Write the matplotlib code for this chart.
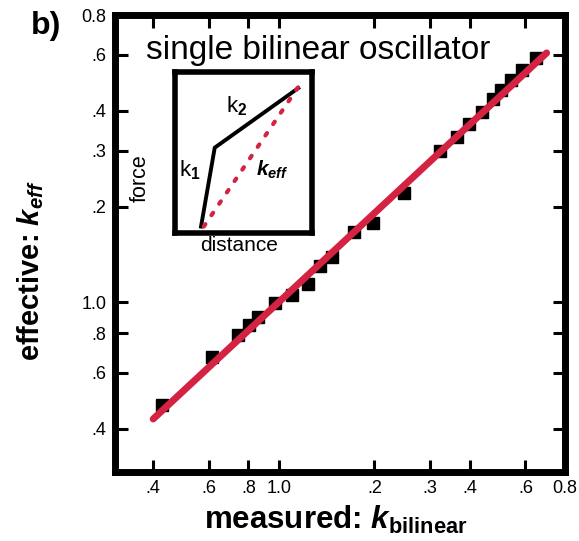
import numpy as np
import matplotlib
matplotlib.use('Agg')
import matplotlib.pyplot as plt
from matplotlib.ticker import FixedLocator, FixedFormatter, NullLocator

plt.rcParams['font.family'] = ['Liberation Sans', 'DejaVu Sans']
plt.rcParams['mathtext.fontset'] = 'custom'
plt.rcParams['mathtext.rm'] = 'Liberation Sans:bold'
plt.rcParams['mathtext.it'] = 'Liberation Sans:italic:bold'
plt.rcParams['mathtext.bf'] = 'Liberation Sans:bold'

# measured vs effective stiffness
k_bilinear = [0.427, 0.614, 0.742, 0.804, 0.858, 0.971, 1.099, 1.234, 1.347, 1.470,
              1.724, 1.980, 2.481, 3.223, 3.648, 3.98, 4.375, 4.74, 5.02, 5.40,
              5.85, 6.48]
k_eff = [0.476, 0.674, 0.790, 0.850, 0.900, 0.996, 1.055, 1.143, 1.302, 1.390,
         1.666, 1.777, 2.209, 2.994, 3.314, 3.641, 3.972, 4.364, 4.656, 5.01,
         5.38, 5.87]

# fitted line end points
fit_x = [0.4, 7.0]
fit_y = [0.43, 6.08]

tick_vals = [0.4, 0.6, 0.8, 1.0, 2, 3, 4, 6, 8]
tick_labels = ['.4', '.6', '.8', '1.0', '.2', '.3', '.4', '.6', '0.8']

# inset sketch (force vs distance)
sketch_x = [0.19, 0.29, 0.90]
sketch_y = [0.04, 0.53, 0.90]
keff_x = [0.21, 0.91]
keff_y = [0.04, 0.92]

red = '#d42342'

fig = plt.figure(figsize=(5.79, 5.41), dpi=100)
ax = fig.add_axes([115/579, 1-472/541, 450/579, 457/541])

ax.plot(k_bilinear, k_eff, 's', color='black', markersize=9, zorder=2)
ax.plot(fit_x, fit_y, '-', color=red, linewidth=5, solid_capstyle='round', zorder=3)

ax.set_xscale('log')
ax.set_yscale('log')
ax.set_xlim(0.303, 8)
ax.set_ylim(0.293, 8)

for axis in (ax.xaxis, ax.yaxis):
    axis.set_major_locator(FixedLocator(tick_vals))
    axis.set_major_formatter(FixedFormatter(tick_labels))
    axis.set_minor_locator(NullLocator())

ax.tick_params(which='major', direction='in', length=9, width=2.2,
               top=True, right=True, labelsize=13, pad=6)
for s in ax.spines.values():
    s.set_linewidth(5)

ax.set_xlabel(r'measured: $k_{\mathrm{bilinear}}$', fontsize=22.5, fontweight='bold')
ax.xaxis.set_label_coords(0.491, -0.07)
ax.set_ylabel(r'effective: $k_{eff}$', fontsize=21, fontweight='bold')
ax.yaxis.set_label_coords(-0.154, 0.44)

fig.text(31/579, 1-11/541, 'b)', fontsize=23, fontweight='bold', va='top')
fig.text(318/579, 1-50/541, 'single bilinear oscillator', fontsize=24,
         ha='center', va='center')

# inset
ins = fig.add_axes([175/579, 1-233/541, 137/579, 161/541])
ins.set_xlim(0, 1)
ins.set_ylim(0, 1)
ins.set_xticks([])
ins.set_yticks([])
for s in ins.spines.values():
    s.set_linewidth(4)
ins.plot(sketch_x, sketch_y, color='black', linewidth=2.8)
ins.plot(keff_x, keff_y, color=red, linewidth=3, linestyle=(0, (0.7, 2.6)),
         dash_capstyle='round')
ins.text(0.11, 0.39, r'k$_1$', fontsize=16, ha='center', va='center')
ins.text(0.45, 0.79, r'k$_2$', fontsize=16, ha='center', va='center')
ins.text(0.71, 0.39, r'$k_{eff}$', fontsize=15, ha='center', va='center')
ins.text(-0.255, 0.34, 'force', fontsize=15.5, rotation=90, ha='center', va='center',
         transform=ins.transAxes)
ins.text(0.47, -0.08, 'distance', fontsize=15, ha='center', va='center',
         transform=ins.transAxes)

fig.savefig('out.png', dpi=100)
